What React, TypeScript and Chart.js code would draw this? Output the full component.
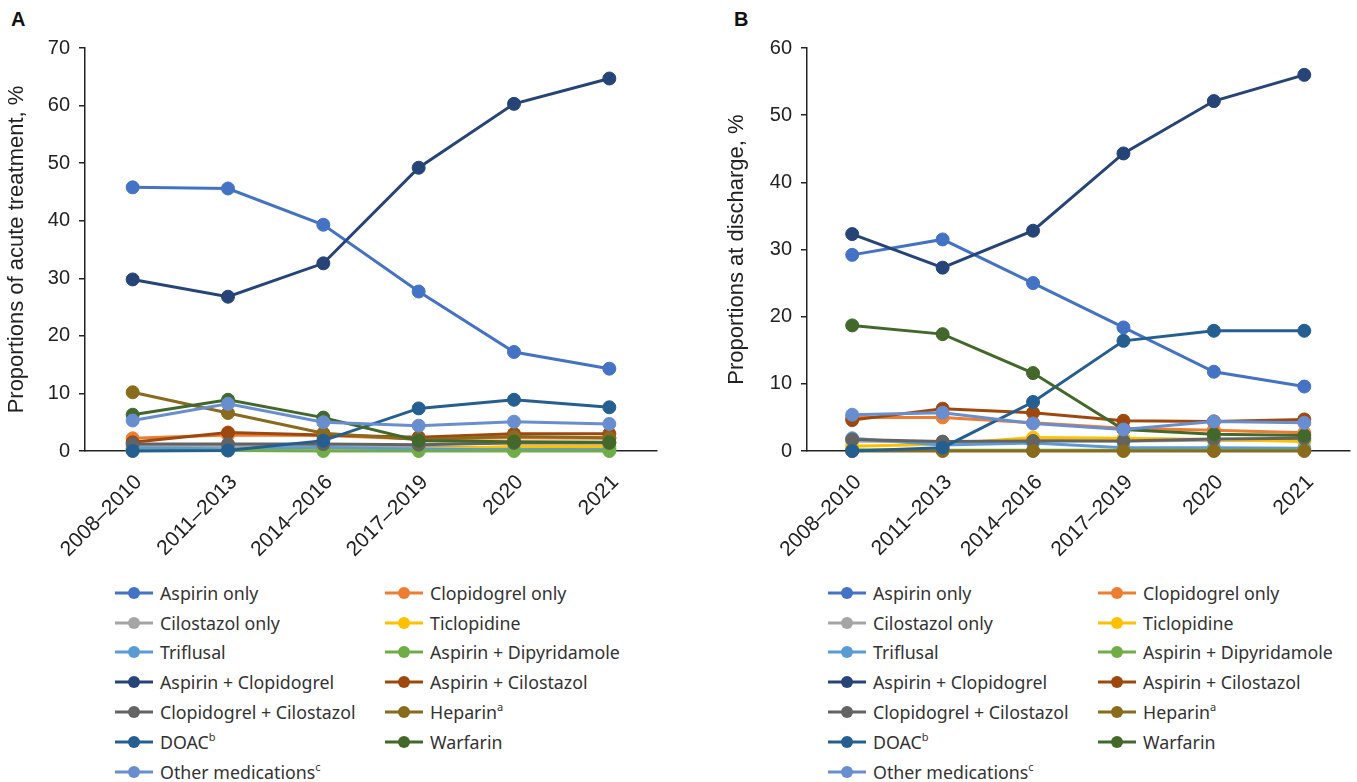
import React, { useEffect, useRef } from "react";
import { Chart, registerables } from "chart.js";

Chart.register(...registerables);

const categories = ["2008–2010", "2011–2013", "2014–2016", "2017–2019", "2020", "2021"];

const seriesNames = [
  "Aspirin only",
  "Clopidogrel only",
  "Cilostazol only",
  "Ticlopidine",
  "Triflusal",
  "Aspirin + Dipyridamole",
  "Aspirin + Clopidogrel",
  "Aspirin + Cilostazol",
  "Clopidogrel + Cilostazol",
  "Heparin",
  "DOAC",
  "Warfarin",
  "Other medications",
];
const seriesSup = ["", "", "", "", "", "", "", "", "", "a", "b", "", "c"];

const seriesColors = [
  "#4472C4",
  "#ED7D31",
  "#A5A5A5",
  "#FFC000",
  "#5B9BD5",
  "#70AD47",
  "#264478",
  "#9E480E",
  "#636363",
  "#8A6A1C",
  "#255E91",
  "#43682B",
  "#698ED0",
];

// Panel A: acute treatment (%)
const acuteAspirinOnly = [45.8, 45.6, 39.3, 27.7, 17.2, 14.3];
const acuteClopidogrelOnly = [2.2, 2.8, 2.7, 2.1, 2.3, 2.2];
const acuteCilostazolOnly = [0.9, 0.9, 0.8, 0.6, 0.6, 0.5];
const acuteTiclopidine = [0.3, 0.3, 0.2, 0.3, 0.8, 0.8];
const acuteTriflusal = [0.5, 0.4, 0.6, 0.3, 0.2, 0.2];
const acuteAspDipyridamole = [0.1, 0.1, 0.0, 0.0, 0.0, 0.0];
const acuteAspClopidogrel = [29.8, 26.8, 32.6, 49.2, 60.3, 64.7];
const acuteAspCilostazol = [1.5, 3.2, 2.8, 2.4, 3.0, 3.0];
const acuteClopCilostazol = [1.2, 1.2, 1.2, 1.1, 1.4, 1.4];
const acuteHeparin = [10.2, 6.6, 3.1, 2.0, 2.5, 2.3];
const acuteDoac = [0.0, 0.1, 1.8, 7.4, 8.9, 7.6];
const acuteWarfarin = [6.3, 8.9, 5.8, 1.8, 1.6, 1.5];
const acuteOther = [5.3, 8.2, 5.0, 4.4, 5.1, 4.7];

// Panel B: at discharge (%)
const dischAspirinOnly = [29.2, 31.5, 25.0, 18.4, 11.8, 9.6];
const dischClopidogrelOnly = [5.0, 5.0, 4.2, 3.4, 3.1, 2.7];
const dischCilostazolOnly = [1.5, 1.3, 1.6, 1.5, 1.6, 1.6];
const dischTiclopidine = [0.7, 1.0, 2.0, 1.9, 1.7, 1.4];
const dischTriflusal = [1.9, 0.9, 1.2, 0.5, 0.5, 0.4];
const dischAspDipyridamole = [0.2, 0.1, 0.1, 0.1, 0.1, 0.1];
const dischAspClopidogrel = [32.3, 27.3, 32.8, 44.3, 52.1, 56.0];
const dischAspCilostazol = [4.6, 6.3, 5.7, 4.5, 4.4, 4.7];
const dischClopCilostazol = [1.7, 1.4, 1.5, 1.5, 1.8, 1.9];
const dischHeparin = [0.0, 0.0, 0.0, 0.0, 0.0, 0.0];
const dischDoac = [0.0, 0.5, 7.3, 16.4, 17.9, 17.9];
const dischWarfarin = [18.7, 17.4, 11.6, 3.2, 2.5, 2.3];
const dischOther = [5.4, 5.7, 4.1, 3.2, 4.4, 4.2];

const acuteSeries = [
  acuteAspirinOnly, acuteClopidogrelOnly, acuteCilostazolOnly, acuteTiclopidine,
  acuteTriflusal, acuteAspDipyridamole, acuteAspClopidogrel, acuteAspCilostazol,
  acuteClopCilostazol, acuteHeparin, acuteDoac, acuteWarfarin, acuteOther,
];
const dischSeries = [
  dischAspirinOnly, dischClopidogrelOnly, dischCilostazolOnly, dischTiclopidine,
  dischTriflusal, dischAspDipyridamole, dischAspClopidogrel, dischAspCilostazol,
  dischClopCilostazol, dischHeparin, dischDoac, dischWarfarin, dischOther,
];

const acuteYTicks = [0, 10, 20, 30, 40, 50, 60, 70];
const dischYTicks = [0, 10, 20, 30, 40, 50, 60];

const AXIS_COLOR = "#222222";
const TICK_FONT = "'Liberation Sans', Arial, sans-serif";

interface PanelProps {
  series: number[][];
  yTicks: number[];
  yTitle: string;
  yAxisWidth: number;
  padRight: number;
  width: number;
  height: number;
}

function LineChartPanel(props: PanelProps) {
  const ref = useRef<HTMLCanvasElement | null>(null);
  useEffect(() => {
    if (!ref.current) return;
    const n = props.series.length;
    const yMax = props.yTicks[props.yTicks.length - 1];
    const chart = new Chart(ref.current, {
      type: "line",
      data: {
        labels: categories,
        datasets: props.series.map((vals, i) => ({
          label: seriesNames[i],
          data: vals,
          borderColor: seriesColors[i],
          backgroundColor: seriesColors[i],
          pointBackgroundColor: seriesColors[i],
          pointBorderColor: seriesColors[i],
          borderWidth: 3,
          pointRadius: 6.5,
          pointBorderWidth: 1,
          tension: 0,
          clip: false as any,
          order: n - i,
        })),
      },
      options: {
        responsive: false,
        animation: false,
        events: [],
        layout: { padding: { top: 48, right: props.padRight, left: 0, bottom: 0 } },
        plugins: {
          legend: { display: false },
          tooltip: { enabled: false },
          title: { display: false },
        },
        scales: {
          x: {
            type: "category",
            offset: true,
            grid: {
              display: true,
              drawOnChartArea: false,
              drawTicks: true,
              tickLength: 6,
              color: AXIS_COLOR,
              lineWidth: 1.5,
              offset: false,
            },
            border: { display: true, color: AXIS_COLOR, width: 1.5 },
            ticks: {
              color: AXIS_COLOR,
              font: { family: TICK_FONT, size: 21 },
              maxRotation: 45,
              minRotation: 45,
              padding: 13,
              labelOffset: 6,
              autoSkip: false,
            },
            afterFit: (scale: any) => {
              scale.height = props.height - 451;
            },
          },
          y: {
            min: 0,
            max: yMax,
            afterBuildTicks: (scale: any) => {
              scale.ticks = props.yTicks.map((v) => ({ value: v }));
            },
            grid: {
              display: true,
              drawOnChartArea: false,
              drawTicks: true,
              tickLength: 6,
              color: AXIS_COLOR,
              lineWidth: 1.5,
            },
            border: { display: true, color: AXIS_COLOR, width: 1.5 },
            ticks: {
              color: AXIS_COLOR,
              font: { family: TICK_FONT, size: 20 },
              padding: 9,
            },
            title: {
              display: true,
              text: props.yTitle,
              color: AXIS_COLOR,
              font: { family: TICK_FONT, size: 22 },
              padding: { top: 4, bottom: 4 },
            },
            afterFit: (scale: any) => {
              scale.width = props.yAxisWidth;
            },
          },
        },
      },
    });
    return () => chart.destroy();
  }, []);
  return (
    <canvas
      ref={ref}
      width={props.width}
      height={props.height}
      style={{ width: props.width, height: props.height, display: "block" }}
    />
  );
}

function Legend() {
  const rows: number[][] = [];
  for (let i = 0; i < seriesNames.length; i += 2) {
    rows.push(i + 1 < seriesNames.length ? [i, i + 1] : [i]);
  }
  const item = (i: number) => (
    <div style={{ display: "flex", alignItems: "center", width: 270, height: 29.8 }}>
      <svg width={38} height={14} style={{ flex: "none", marginRight: 7 }}>
        <line x1={0} y1={7} x2={38} y2={7} stroke={seriesColors[i]} strokeWidth={3} />
        <circle cx={19} cy={7} r={6} fill={seriesColors[i]} />
      </svg>
      <span style={{ whiteSpace: "nowrap" }}>
        {seriesNames[i]}
        {seriesSup[i] ? (
          <sup style={{ fontSize: 11, verticalAlign: "top", position: "relative", top: -1 }}>{seriesSup[i]}</sup>
        ) : null}
      </span>
    </div>
  );
  return (
    <div style={{ fontFamily: "'Noto Sans', sans-serif", fontSize: 17.8, color: "#333" }}>
      {rows.map((r, k) => (
        <div key={k} style={{ display: "flex" }}>
          {r.map((i) => (
            <React.Fragment key={i}>{item(i)}</React.Fragment>
          ))}
        </div>
      ))}
    </div>
  );
}

export default function App() {
  return (
    <div style={{ position: "absolute", left: 0, top: 0, width: 1357, height: 782, background: "#fff", overflow: "hidden" }}>
      <div style={{ position: "absolute", left: 11, top: 8, fontFamily: TICK_FONT, fontWeight: "bold", fontSize: 20, color: "#111" }}>A</div>
      <div style={{ position: "absolute", left: 734, top: 8, fontFamily: TICK_FONT, fontWeight: "bold", fontSize: 20, color: "#111" }}>B</div>
      <div style={{ position: "absolute", left: 0, top: 0 }}>
        <LineChartPanel
          series={acuteSeries}
          yTicks={acuteYTicks}
          yTitle="Proportions of acute treatment, %"
          yAxisWidth={85}
          padRight={33}
          width={690}
          height={570}
        />
      </div>
      <div style={{ position: "absolute", left: 720, top: 0 }}>
        <LineChartPanel
          series={dischSeries}
          yTicks={dischYTicks}
          yTitle="Proportions at discharge, %"
          yAxisWidth={87}
          padRight={1}
          width={637}
          height={570}
        />
      </div>
      <div style={{ position: "absolute", left: 115, top: 578 }}>
        <Legend />
      </div>
      <div style={{ position: "absolute", left: 828, top: 578 }}>
        <Legend />
      </div>
    </div>
  );
}
